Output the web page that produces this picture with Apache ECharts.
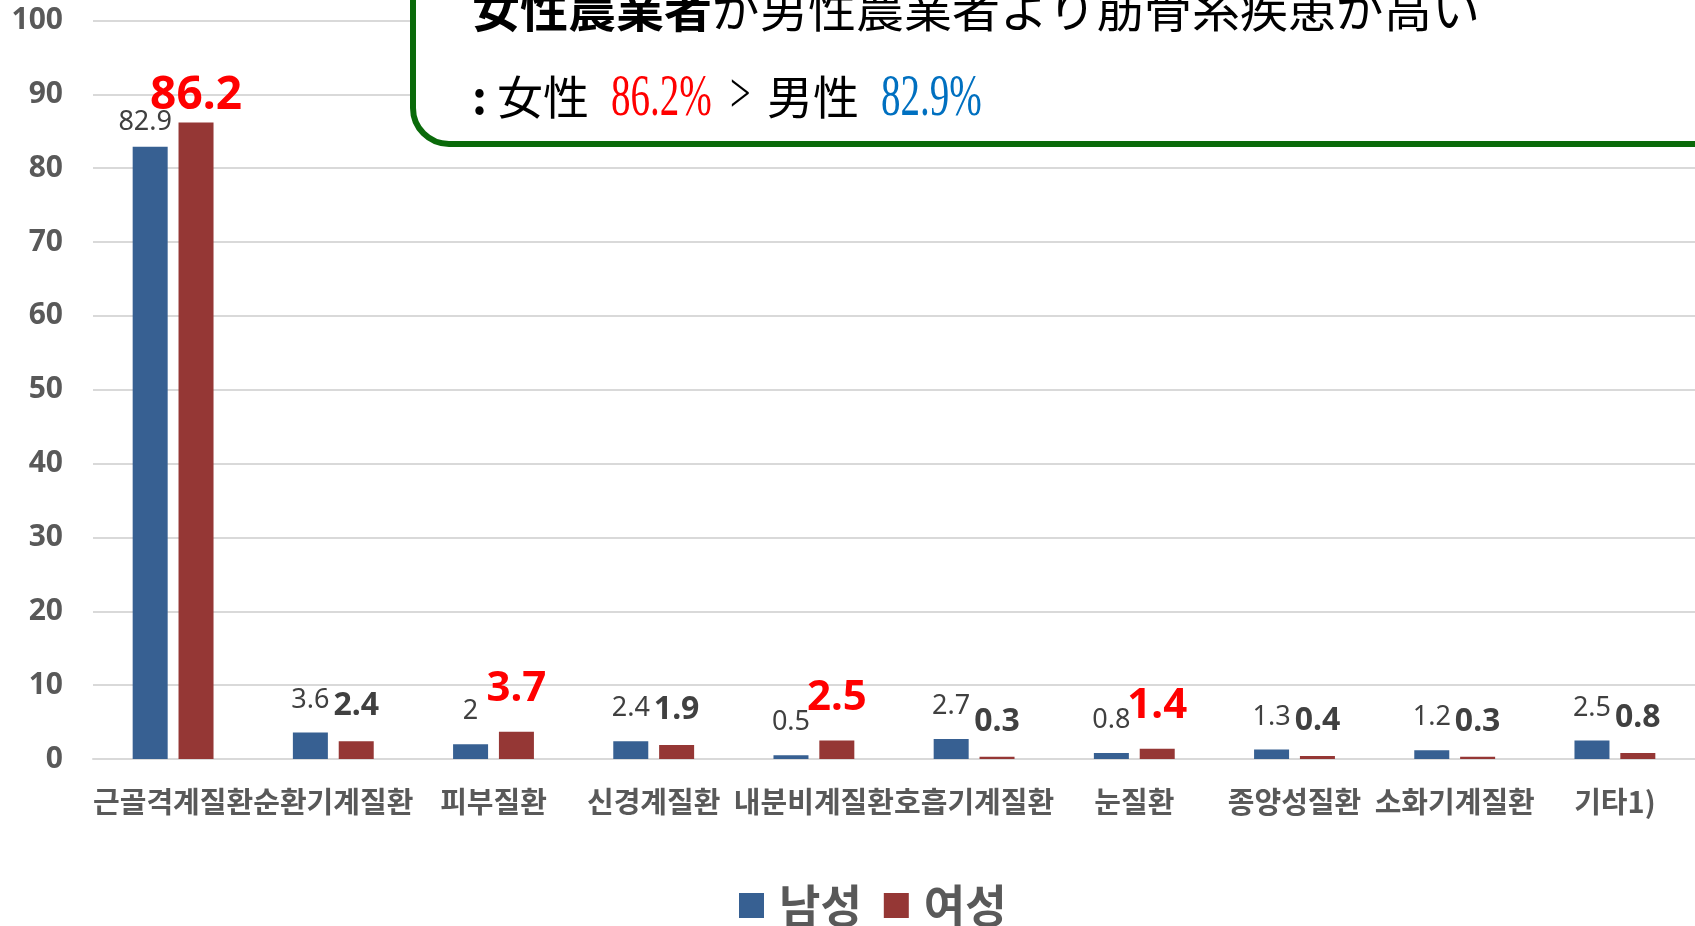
<!DOCTYPE html>
<html><head><meta charset="utf-8">
<script src="https://cdn.jsdelivr.net/npm/echarts@6/dist/echarts.min.js"></script>
<style>html,body{margin:0;padding:0;background:#fff}#c{width:1695px;height:926px}</style>
</head><body><div id="c"></div>
<script>
const categories = ['근골격계질환','순환기계질환','피부질환','신경계질환','내분비계질환','호흡기계질환','눈질환','종양성질환','소화기계질환','기타1)'];
const maleValues = [82.9, 3.6, 2, 2.4, 0.5, 2.7, 0.8, 1.3, 1.2, 2.5];
const femaleValues = [86.2, 2.4, 3.7, 1.9, 2.5, 0.3, 1.4, 0.4, 0.3, 0.8];
const seriesNames = ['남성', '여성'];
const yMin = 0, yMax = 100, yInterval = 10;
const headlineBold = '女性農業者';
const headlineRest = 'が男性農業者より筋骨系疾患が高い';
const compareWords = ['女性', '男性'];

const NUM_FONT = "'Noto Sans', 'Noto Sans CJK KR'";
const KR_FONT = "'Noto Sans CJK KR', 'Noto Sans'";
const JP_FONT = "'Noto Sans CJK JP'";

const maleData = maleValues.map((v, i) => ({
  value: v,
  label: { show: true, position: 'top', distance: i === 0 ? 11 : 19, offset: [i === 0 ? -5 : 0, 0],
    fontSize: 27, color: '#404040', fontFamily: NUM_FONT }
}));
const femaleData = femaleValues.map((v, i) => {
  const hi = v > maleValues[i];
  return {
    value: v,
    label: hi
      ? { show: true, position: 'top', distance: i === 0 ? 4 : 22, fontSize: i === 0 ? 46 : 42,
          fontWeight: 'bold', color: '#ff0000', fontFamily: NUM_FONT }
      : { show: true, position: 'top', distance: 19, fontSize: 32,
          fontWeight: 'bold', color: '#404040', fontFamily: NUM_FONT }
  };
});

const chart = echarts.init(document.getElementById('c'));
chart.setOption({
  animation: false,
  backgroundColor: '#fff',
  grid: { left: 93, right: -4, top: 20.5, bottom: 167 },
  legend: {
    data: seriesNames, left: 734, top: 878, icon: 'rect', itemWidth: 25, itemHeight: 25, itemGap: 22,
    textStyle: { fontSize: 45, fontWeight: 'bold', color: '#595959', fontFamily: KR_FONT, padding: [0, 0, 0, 10] }
  },
  xAxis: {
    type: 'category', data: categories,
    axisLine: { lineStyle: { color: '#d9d9d9', width: 2 } },
    axisTick: { show: false },
    axisLabel: { interval: 0, margin: 28, fontSize: 29, fontWeight: 'bold', color: '#595959', fontFamily: KR_FONT }
  },
  yAxis: {
    type: 'value', min: yMin, max: yMax, interval: yInterval,
    axisLine: { show: false }, axisTick: { show: false },
    axisLabel: { margin: 30, fontSize: 30, fontWeight: 'bold', color: '#595959', fontFamily: NUM_FONT },
    splitLine: { lineStyle: { color: '#d9d9d9', width: 2 } }
  },
  series: [
    { name: seriesNames[0], type: 'bar', data: maleData, barWidth: 35, barGap: '31%',
      itemStyle: { color: '#376092' } },
    { name: seriesNames[1], type: 'bar', data: femaleData, barWidth: 35,
      itemStyle: { color: '#953735' } }
  ],
  graphic: [
    { type: 'rect', z: 100, shape: { x: 413, y: -90, width: 1400, height: 234, r: 36 },
      style: { fill: '#fff', stroke: '#0a6a0a', lineWidth: 6 } },
    { type: 'text', z: 101, x: 472, y: 9,
      style: { text: '{b|' + headlineBold + '}{n|' + headlineRest + '}', verticalAlign: 'middle',
        rich: { b: { fontSize: 48, fontWeight: 'bold', fontFamily: JP_FONT, fill: '#000' },
                n: { fontSize: 48, fontFamily: JP_FONT, fill: '#000' } } } },
    { type: 'text', z: 101, x: 472, y: 97,
      style: { text: ':', fontSize: 46, fontWeight: 'bold', fontFamily: JP_FONT, fill: '#000', verticalAlign: 'middle' } },
    { type: 'text', z: 101, x: 497, y: 97,
      style: { text: compareWords[0], fontSize: 46, fontFamily: JP_FONT, fill: '#000', verticalAlign: 'middle' } },
    { type: 'text', z: 101, x: 611, y: 99, scaleX: 0.65,
      style: { text: femaleValues[0] + '%', fontSize: 60, fontFamily: 'Liberation Serif', fill: '#ff0000', verticalAlign: 'middle' } },
    { type: 'text', z: 101, x: 730, y: 97, scaleX: 0.65,
      style: { text: '>', fontSize: 56, fontFamily: 'Liberation Serif', fill: '#000', verticalAlign: 'middle' } },
    { type: 'text', z: 101, x: 767, y: 97,
      style: { text: compareWords[1], fontSize: 46, fontFamily: JP_FONT, fill: '#000', verticalAlign: 'middle' } },
    { type: 'text', z: 101, x: 881, y: 99, scaleX: 0.65,
      style: { text: maleValues[0] + '%', fontSize: 60, fontFamily: 'Liberation Serif', fill: '#0070c0', verticalAlign: 'middle' } }
  ]
});
</script></body></html>
